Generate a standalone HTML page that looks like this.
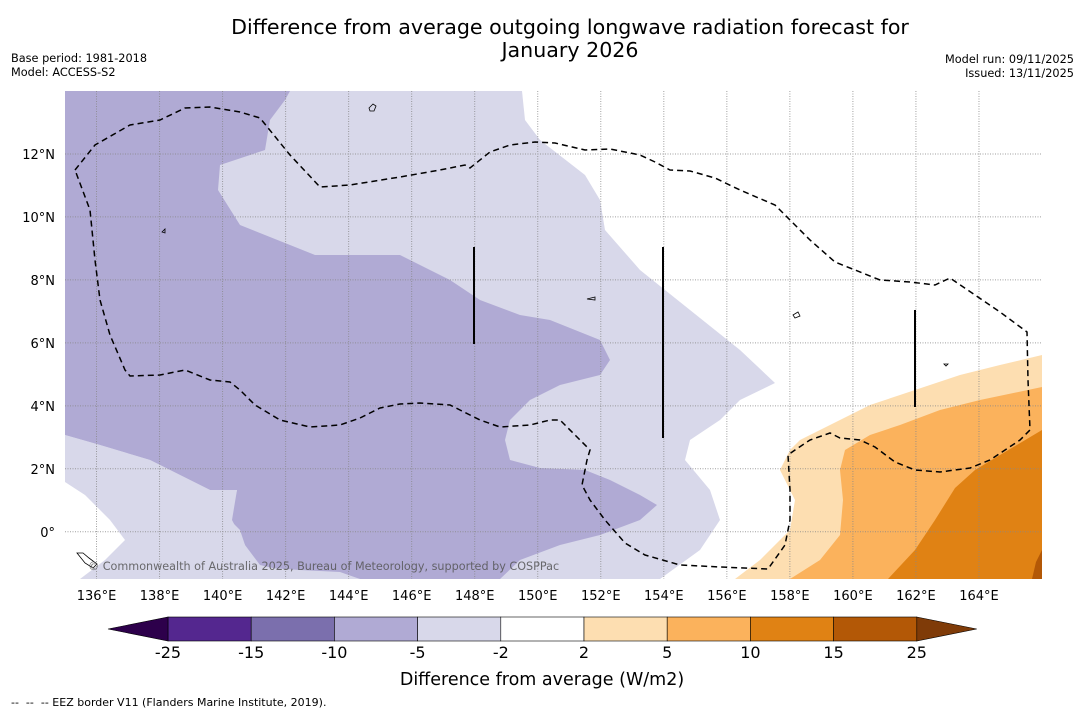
<!DOCTYPE html>
<html><head><meta charset="utf-8"><style>
body{margin:0;background:#fff;font-family:"Liberation Sans","DejaVu Sans",sans-serif}
svg text{font-family:"DejaVu Sans","Liberation Sans",sans-serif}
</style></head><body>
<svg id="c" width="1085" height="713" xmlns="http://www.w3.org/2000/svg">
<text x="570" y="34" font-size="20.6" text-anchor="middle">Difference from average outgoing longwave radiation forecast for</text>
<text x="570" y="57" font-size="20.6" text-anchor="middle">January 2026</text>
<text x="11" y="62" font-size="11.3">Base period: 1981-2018</text>
<text x="11" y="76" font-size="11.3">Model: ACCESS-S2</text>
<text x="1074" y="63" font-size="11.3" text-anchor="end">Model run: 09/11/2025</text>
<text x="1074" y="77" font-size="11.3" text-anchor="end">Issued: 13/11/2025</text>
<g id="map">
<rect x="65" y="91" width="977" height="488" fill="#fff"/>
<polygon fill="#d8d8ea" points="65,91 522,91 525,120 540,140 585,175 600,200 605,230 640,270 690,310 740,350 775,383 740,400 720,420 690,440 685,460 710,490 720,520 700,550 660,579 65,579"/>
<polygon fill="#b0aad4" points="65,91 290,91 285,100 270,120 265,150 220,165 218,190 240,225 290,245 315,255 400,255 450,280 480,300 520,315 550,320 600,340 610,360 600,375 560,385 530,400 510,420 505,440 510,460 540,468 585,470 610,480 640,495 657,505 640,520 600,535 560,545 520,560 500,579 360,579 340,575 290,572 260,565 245,545 240,530 230,520 237,490 210,490 150,460 100,445 65,435"/>
<polygon fill="#d8d8ea" points="260,579 270,568 300,570 340,572 360,579"/>
<polygon fill="#d8d8ea" points="65,435 100,445 150,460 210,490 237,490 232,520 245,545 235,555 200,565 130,572 100,579 65,579"/>
<polygon fill="#fff" points="65,482 85,495 110,520 125,540 105,560 80,579 65,579"/>
<polygon fill="#fff" points="620,190 640,187 645,192 630,198"/>
<polygon fill="#fddeb1" points="735,579 760,560 790,530 795,500 780,470 790,450 800,440 830,425 870,405 900,395 960,375 1000,365 1042,355 1042,579"/>
<polygon fill="#fbb25c" points="790,579 820,560 840,535 843,500 840,470 845,450 870,435 900,425 940,410 980,400 1042,387 1042,579"/>
<polygon fill="#e08214" points="888,579 915,550 935,520 955,488 975,470 1000,455 1042,430 1042,579"/>
<polygon fill="#b35806" points="1032,579 1036,562 1042,550 1042,579"/>
<g id="grid" stroke="#888" stroke-width="1" stroke-dasharray="1,1.5" opacity="0.8"></g>
<path fill="none" stroke="#000" stroke-width="1.5" stroke-dasharray="6,4" d="M75,170 L95,145 130,125 160,120 185,108 210,107 240,112 260,118 290,155 320,187 350,185 400,177 440,170 465,165 470,168 490,152 510,145 535,142 555,143 585,150 610,149 640,155 655,162 670,170 690,171 715,178 740,190 775,205 790,220 810,240 835,262 855,270 880,280 910,282 935,285 950,278 975,295 1000,312 1027,332 1028,380 1030,430 1020,440 990,460 970,468 940,472 915,470 895,462 875,447 860,440 840,438 830,433 810,440 795,450 788,455 790,490 790,520 785,545 768,569 720,567 680,565 645,555 625,543 605,520 590,500 582,485 587,460 590,450 575,435 560,420 550,420 530,425 500,427 480,420 460,410 450,405 420,403 400,404 380,408 360,418 340,425 310,427 280,420 255,405 240,390 230,382 210,380 185,370 160,375 130,376 125,370 110,335 100,300 95,260 90,210 Z"/>
<g stroke="#000" stroke-width="2">
<line x1="474" y1="247" x2="474" y2="344"/><line x1="663" y1="247" x2="663" y2="438"/><line x1="915" y1="310" x2="915" y2="407"/></g>
<g fill="none" stroke="#000" stroke-width="0.8">
<path d="M369,108 l4,-4 3,2 -2,5 -4,0z"/><path d="M162,232 l3,-3 0,4z"/><path d="M587,299 l8,-2 0,3z"/><path d="M793,315 l5,-3 2,4 -5,2z"/><path d="M77,553 l6,0 6,5 8,6 -4,4 -8,-5z"/><path d="M944,364 l4,0 -2,2z"/>
</g>
<text x="88" y="570" font-size="11.2" fill="#555" opacity="0.85">© Commonwealth of Australia 2025, Bureau of Meteorology, supported by COSPPac</text>
</g>
<g id="axes" font-size="13"></g>
<g id="cbar"></g>
<text x="542" y="685" font-size="17.5" text-anchor="middle">Difference from average (W/m2)</text>
<text x="11" y="706" font-size="11" xml:space="preserve" style="white-space:pre">--  --  -- EEZ border V11 (Flanders Marine Institute, 2019).</text>
</svg>
<script>
const lonTicks=[136,138,140,142,144,146,148,150,152,154,156,158,160,162,164];
const latTicks=[12,10,8,6,4,2,0];
const levels=[-25,-15,-10,-5,-2,2,5,10,15,25];
const levelColors=["#54278f","#7b6fad","#b0aad4","#d8d8ea","#ffffff","#fddeb1","#fbb25c","#e08214","#b35806"];
const NS="http://www.w3.org/2000/svg";
const x0=65,x1=1042,y0=91,y1=579,lonMin=135,lonMax=166,latMax=14,latMin=-1.5;
const xs=l=>x0+(l-lonMin)/(lonMax-lonMin)*(x1-x0);
const ys=l=>y0+(latMax-l)/(latMax-latMin)*(y1-y0);
function mk(t,a,p){const e=document.createElementNS(NS,t);for(const k in a)e.setAttribute(k,a[k]);p.appendChild(e);return e;}
const grid=document.getElementById('grid'),axes=document.getElementById('axes'),cb=document.getElementById('cbar');
lonTicks.forEach(l=>{const x=xs(l);
const g=mk('line',{x1:x,x2:x,y1:y0,y2:y1},grid);


const t=mk('text',{x:x,y:600,'text-anchor':'middle'},axes);t.textContent=l+'°E';

});
latTicks.forEach(l=>{const y=ys(l);
const g=mk('line',{x1:x0,x2:x1,y1:y,y2:y},grid);


const t=mk('text',{x:55,y:y+5,'text-anchor':'end'},axes);t.textContent=l===0?'0°':l+'°N';

});
const cx0=168,cw=83.2,cy=617,ch=24;
levelColors.forEach((c,i)=>{const r=mk('rect',{x:cx0+i*cw,y:cy,width:cw,height:ch,fill:c,stroke:'#000','stroke-width':0.6},cb);

});
const tl=mk('polygon',{points:`108,629 ${cx0},${cy} ${cx0},${cy+ch}`,fill:'#2d004b',stroke:'#000','stroke-width':0.6},cb);


const xe=cx0+levelColors.length*cw;
const tr=mk('polygon',{points:`${xe},${cy} ${xe+60},629 ${xe},${cy+ch}`,fill:'#7f3b08',stroke:'#000','stroke-width':0.6},cb);


levels.forEach((v,i)=>{const t=mk('text',{x:cx0+i*cw,y:658,'font-size':16,'text-anchor':'middle'},cb);t.textContent=v;

});
</script>
</body></html>
